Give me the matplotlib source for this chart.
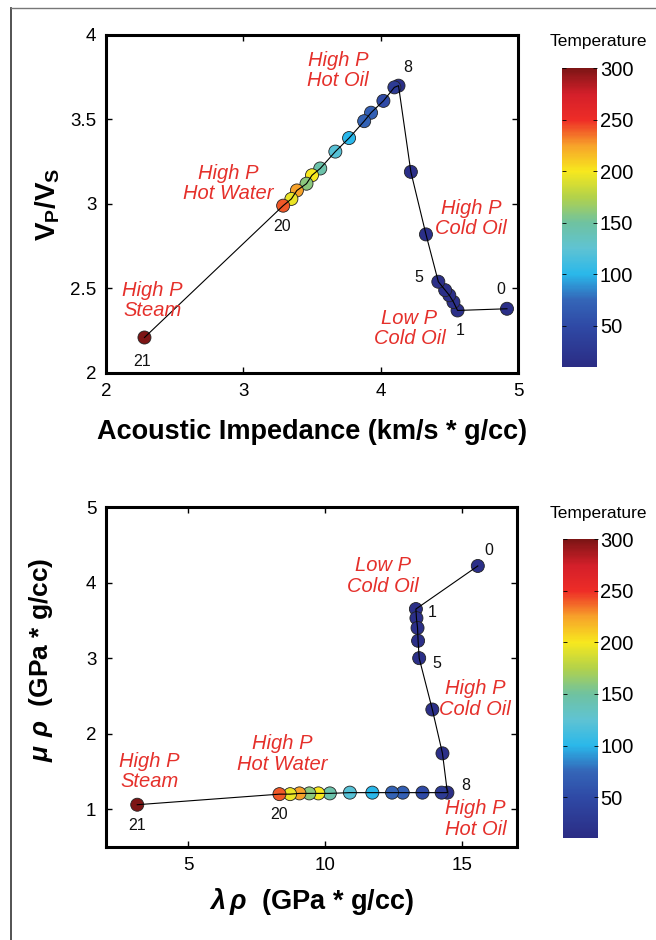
import numpy as np
import matplotlib
matplotlib.use('Agg')
import matplotlib.pyplot as plt
from matplotlib.colors import LinearSegmentedColormap, Normalize
from matplotlib.lines import Line2D

plt.rcParams['font.family'] = ['Liberation Sans', 'DejaVu Sans']
plt.rcParams['mathtext.fontset'] = 'custom'
plt.rcParams['mathtext.rm'] = 'Liberation Sans'
plt.rcParams['mathtext.bf'] = 'Liberation Sans:bold'
plt.rcParams['mathtext.sf'] = 'Liberation Sans:bold:italic'

# data (points 0..21)
temperature = [15, 15, 15, 15, 15, 15, 15, 15, 15, 30, 50, 70, 72, 100, 122, 145, 200, 160, 225, 195, 240, 300]

acoustic_imp = [4.92, 4.56, 4.53, 4.50, 4.47, 4.42, 4.33, 4.22, 4.13, 4.10, 4.02, 3.93, 3.88,
                3.77, 3.67, 3.56, 3.50, 3.46, 3.39, 3.35, 3.29, 2.28]
vp_vs = [2.38, 2.37, 2.42, 2.46, 2.49, 2.54, 2.82, 3.19, 3.70, 3.69, 3.61, 3.54, 3.49,
         3.39, 3.31, 3.21, 3.17, 3.12, 3.08, 3.03, 2.99, 2.21]

lambda_rho = [15.57, 13.31, 13.33, 13.37, 13.39, 13.43, 13.91, 14.28, 14.46, 14.25, 13.55, 12.83, 12.44,
              11.72, 10.90, 10.17, 9.75, 9.42, 9.06, 8.72, 8.33, 3.14]
mu_rho = [4.22, 3.65, 3.53, 3.40, 3.23, 3.00, 2.32, 1.74, 1.22, 1.22, 1.22, 1.22, 1.22,
          1.22, 1.22, 1.21, 1.21, 1.21, 1.21, 1.20, 1.20, 1.06]

# region annotations (text, x, y) per panel
top_labels = [('High P\nHot Oil', 3.69, 3.79), ('High P\nHot Water', 2.89, 3.12),
              ('High P\nSteam', 2.34, 2.43), ('High P\nCold Oil', 4.66, 2.915),
              ('Low P\nCold Oil', 4.21, 2.264)]
top_numbers = [('8', 4.20, 3.81), ('20', 3.285, 2.866), ('21', 2.26, 2.067),
               ('5', 4.28, 2.564), ('0', 4.878, 2.495), ('1', 4.58, 2.254)]
bot_labels = [('Low P\nCold Oil', 12.1, 4.09), ('High P\nCold Oil', 15.46, 2.46),
              ('High P\nHot Oil', 15.49, 0.87), ('High P\nHot Water', 8.42, 1.73),
              ('High P\nSteam', 3.59, 1.50)]
bot_numbers = [('0', 15.97, 4.42), ('1', 13.92, 3.60), ('5', 14.09, 2.93),
               ('8', 15.12, 1.32), ('20', 8.32, 0.93), ('21', 3.13, 0.78)]

cb_ticks = [50, 100, 150, 200, 250, 300]

cmap = LinearSegmentedColormap.from_list('temp', [
    (0.0, '#2b2c84'), (40 / 290, '#2f4aa6'), (65 / 290, '#3466b8'), (90 / 290, '#2ab8ea'),
    (115 / 290, '#5fc3d3'), (140 / 290, '#6fc2a0'), (165 / 290, '#b3d24a'),
    (190 / 290, '#f7e81e'), (215 / 290, '#f7a22a'), (240 / 290, '#ee2d27'),
    (265 / 290, '#d41f2a'), (1.0, '#7d1515')])
norm = Normalize(vmin=10, vmax=300)

red = '#e5302b'

fig = plt.figure(figsize=(6.56, 9.4), dpi=100)

# outer frame (left and top edges visible)
fig.add_artist(Line2D([0.0168, 0.0168], [0, 0.9915], color='#444444', lw=1.3, transform=fig.transFigure))
fig.add_artist(Line2D([0.0168, 1.0], [0.9915, 0.9915], color='#777777', lw=1.0, transform=fig.transFigure))


def draw_panel(ax, cax, x, y, labels, numbers):
    ax.plot(x, y, color='black', lw=0.8, zorder=3)
    sc = ax.scatter(x, y, c=temperature, cmap=cmap, norm=norm, s=88,
                    edgecolors='#222222', linewidths=0.6, zorder=2)
    for txt, tx, ty in labels:
        ax.text(tx, ty, txt, color=red, fontsize=14.5, style='italic', ha='center', va='center',
                multialignment='center', linespacing=1.1)
    for txt, tx, ty in numbers:
        ax.text(tx, ty, txt, color='#111111', fontsize=11.5, ha='center', va='center')
    for sp in ax.spines.values():
        sp.set_linewidth(2.2)
    ax.tick_params(direction='in', length=4, width=1, labelsize=13.5, top=True, right=True, pad=7)

    cb = fig.colorbar(sc, cax=cax, ticks=cb_ticks)
    cb.outline.set_visible(False)
    cb.ax.tick_params(direction='in', length=3, width=0.6, labelsize=14.5, left=True, right=True, pad=2)
    return cb


ax1 = fig.add_axes([0.1616, 0.6032, 0.628, 0.3596])
cax1 = fig.add_axes([0.8567, 0.6096, 0.0534, 0.318])
draw_panel(ax1, cax1, acoustic_imp, vp_vs, top_labels, top_numbers)
ax1.set_xlim(2, 5)
ax1.set_ylim(2, 4)
ax1.set_xticks([2, 3, 4, 5])
ax1.set_yticks([2, 2.5, 3, 3.5, 4])
ax1.set_yticklabels(['2', '2.5', '3', '3.5', '4'])
ax1.set_xlabel('Acoustic Impedance (km/s * g/cc)', fontsize=19.5, fontweight='bold', labelpad=14)
ax1.set_ylabel(r'$\mathbf{V_P/V_S}$', fontsize=20, labelpad=6)
fig.text(0.912, 0.9556, 'Temperature', fontsize=12.5, ha='center', va='center')

ax2 = fig.add_axes([0.1616, 0.0989, 0.6265, 0.3617])
cax2 = fig.add_axes([0.8577, 0.1082, 0.0534, 0.318])
draw_panel(ax2, cax2, lambda_rho, mu_rho, bot_labels, bot_numbers)
ax2.set_xlim(2, 17)
ax2.set_ylim(0.5, 5)
ax2.set_xticks([5, 10, 15])
ax2.set_yticks([1, 2, 3, 4, 5])
ax2.set_xlabel(r'$\mathsf{\lambda\,\rho}$  (GPa * g/cc)', fontsize=19.5, fontweight='bold', labelpad=9)
ax2.set_ylabel(r'$\mathsf{\mu\ \rho}$  (GPa * g/cc)', fontsize=19, fontweight='bold')
ax2.yaxis.set_label_coords(-0.125, 0.55)
fig.text(0.912, 0.4539, 'Temperature', fontsize=12.5, ha='center', va='center')

fig.savefig('out.png', dpi=100)
